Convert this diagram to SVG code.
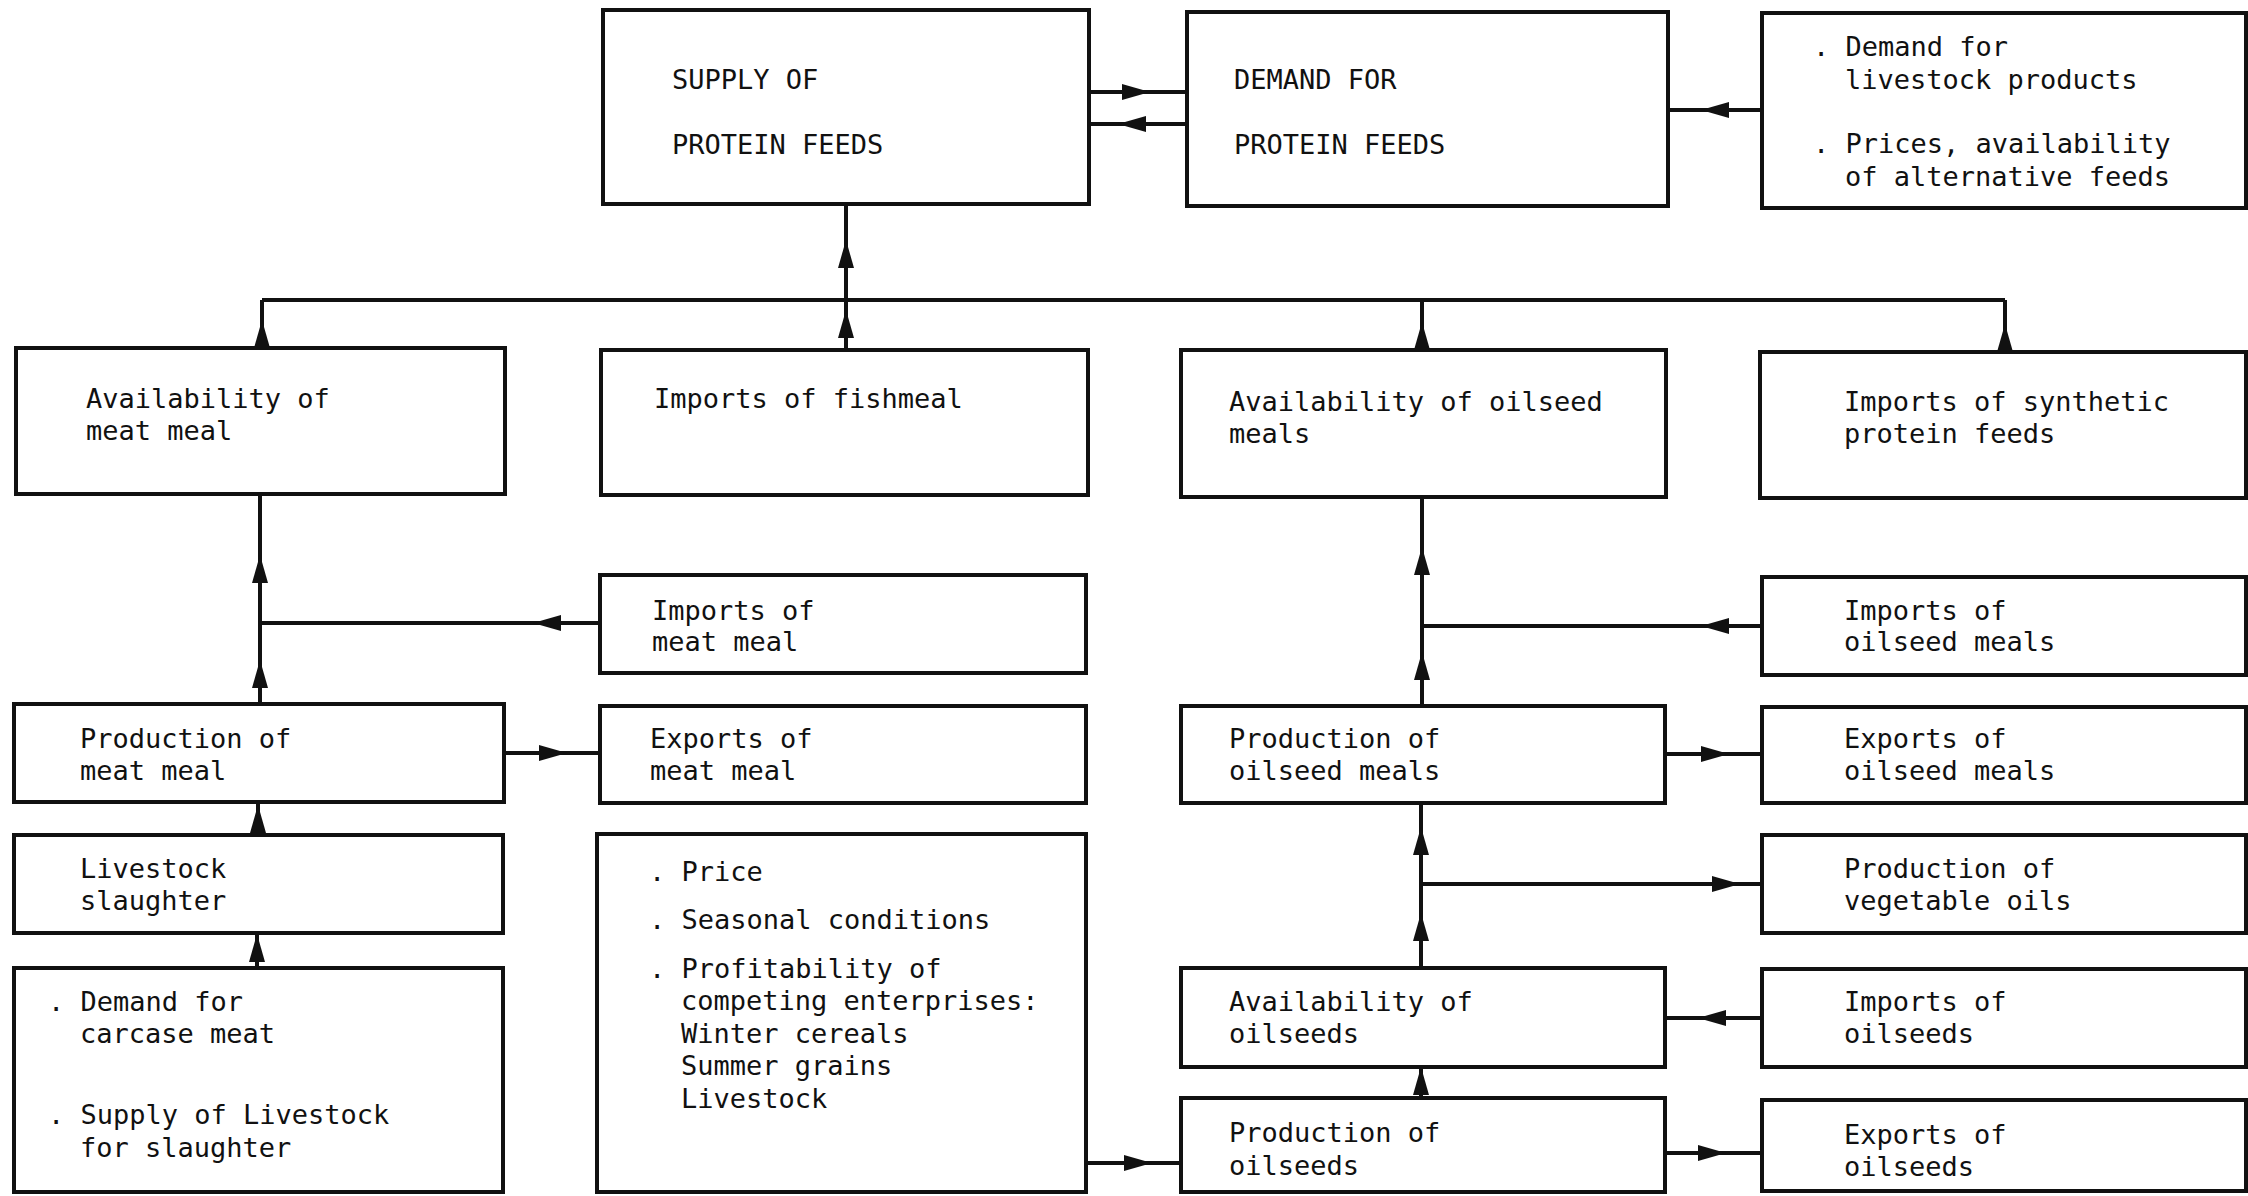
<svg xmlns="http://www.w3.org/2000/svg" xmlns:xlink="http://www.w3.org/1999/xlink" width="2248" height="1196" viewBox="0 0 2248 1196">
<style>
.box{fill:#fff;stroke:#111;stroke-width:4}
.ln{fill:none;stroke:#111;stroke-width:4}
text{font-family:"DejaVu Sans Mono","Liberation Mono",monospace;font-size:27px;fill:#111}
.ah{fill:#111;stroke:none}
</style>
<defs>
<path id="ah" class="ah" d="M0,0 L-28,-8 L-28,8 Z"/>
</defs>
<rect width="2248" height="1196" fill="#fff"/>

<g id="connectors">
<path class="ln" d="M1089,92 H1187 M1089,124 H1187 M1668,110 H1762"/>
<path class="ln" d="M262,300 H2005 M846,300 V205 M262,348 V300 M846,350 V300 M1422,350 V300 M2005,352 V300"/>
<path class="ln" d="M260,704 V494 M600,623 H260 M258,835 V802 M257,968 V933 M504,753 H600"/>
<path class="ln" d="M1422,706 V497 M1762,626 H1422 M1665,754 H1762 M1421,968 V803 M1421,884 H1762 M1421,1098 V1067 M1762,1018 H1665 M1665,1153 H1762 M1086,1163 H1181"/>
<use xlink:href="#ah" transform="translate(1150,92)"/>
<use xlink:href="#ah" transform="translate(1118,124) rotate(180)"/>
<use xlink:href="#ah" transform="translate(1701,110) rotate(180)"/>
<use xlink:href="#ah" transform="translate(846,240) rotate(-90)"/>
<use xlink:href="#ah" transform="translate(262,320) rotate(-90)"/>
<use xlink:href="#ah" transform="translate(846,310) rotate(-90)"/>
<use xlink:href="#ah" transform="translate(1422,322) rotate(-90)"/>
<use xlink:href="#ah" transform="translate(2005,324) rotate(-90)"/>
<use xlink:href="#ah" transform="translate(260,555) rotate(-90)"/>
<use xlink:href="#ah" transform="translate(260,660) rotate(-90)"/>
<use xlink:href="#ah" transform="translate(533,623) rotate(180)"/>
<use xlink:href="#ah" transform="translate(567,753)"/>
<use xlink:href="#ah" transform="translate(258,805) rotate(-90)"/>
<use xlink:href="#ah" transform="translate(257,934) rotate(-90)"/>
<use xlink:href="#ah" transform="translate(1422,547) rotate(-90)"/>
<use xlink:href="#ah" transform="translate(1422,652) rotate(-90)"/>
<use xlink:href="#ah" transform="translate(1701,626) rotate(180)"/>
<use xlink:href="#ah" transform="translate(1729,754)"/>
<use xlink:href="#ah" transform="translate(1421,827) rotate(-90)"/>
<use xlink:href="#ah" transform="translate(1421,913) rotate(-90)"/>
<use xlink:href="#ah" transform="translate(1740,884)"/>
<use xlink:href="#ah" transform="translate(1421,1067) rotate(-90)"/>
<use xlink:href="#ah" transform="translate(1698,1018) rotate(180)"/>
<use xlink:href="#ah" transform="translate(1726,1153)"/>
<use xlink:href="#ah" transform="translate(1152,1163)"/>
</g>

<g id="supply">
<rect class="box" x="603" y="10" width="486" height="194"/>
<text x="672" y="89">SUPPLY OF</text>
<text x="672" y="154">PROTEIN FEEDS</text>
</g>
<g id="demand">
<rect class="box" x="1187" y="12" width="481" height="194"/>
<text x="1234" y="89">DEMAND FOR</text>
<text x="1234" y="154">PROTEIN FEEDS</text>
</g>
<g id="demand-factors">
<rect class="box" x="1762" y="13" width="484" height="195"/>
<text x="1813" y="56">. Demand for</text>
<text x="1845" y="89">livestock products</text>
<text x="1813" y="153">. Prices, availability</text>
<text x="1845" y="186">of alternative feeds</text>
</g>

<g id="avail-meat-meal">
<rect class="box" x="16" y="348" width="489" height="146"/>
<text x="86" y="408">Availability of</text>
<text x="86" y="440">meat meal</text>
</g>
<g id="imports-fishmeal">
<rect class="box" x="601" y="350" width="487" height="145"/>
<text x="654" y="408">Imports of fishmeal</text>
</g>
<g id="avail-oilseed-meals">
<rect class="box" x="1181" y="350" width="485" height="147"/>
<text x="1229" y="411">Availability of oilseed</text>
<text x="1229" y="443">meals</text>
</g>
<g id="imports-synthetic">
<rect class="box" x="1760" y="352" width="486" height="146"/>
<text x="1844" y="411">Imports of synthetic</text>
<text x="1844" y="443">protein feeds</text>
</g>

<g id="imports-meat-meal">
<rect class="box" x="600" y="575" width="486" height="98"/>
<text x="652" y="620">Imports of</text>
<text x="652" y="651">meat meal</text>
</g>
<g id="imports-oilseed-meals">
<rect class="box" x="1762" y="577" width="484" height="98"/>
<text x="1844" y="620">Imports of</text>
<text x="1844" y="651">oilseed meals</text>
</g>

<g id="prod-meat-meal">
<rect class="box" x="14" y="704" width="490" height="98"/>
<text x="80" y="748">Production of</text>
<text x="80" y="780">meat meal</text>
</g>
<g id="exports-meat-meal">
<rect class="box" x="600" y="706" width="486" height="97"/>
<text x="650" y="748">Exports of</text>
<text x="650" y="780">meat meal</text>
</g>
<g id="prod-oilseed-meals">
<rect class="box" x="1181" y="706" width="484" height="97"/>
<text x="1229" y="748">Production of</text>
<text x="1229" y="780">oilseed meals</text>
</g>
<g id="exports-oilseed-meals">
<rect class="box" x="1762" y="707" width="484" height="96"/>
<text x="1844" y="748">Exports of</text>
<text x="1844" y="780">oilseed meals</text>
</g>

<g id="livestock-slaughter">
<rect class="box" x="14" y="835" width="489" height="98"/>
<text x="80" y="878">Livestock</text>
<text x="80" y="910">slaughter</text>
</g>
<g id="oilseed-factors">
<rect class="box" x="597" y="834" width="489" height="358"/>
<text x="649" y="881">. Price</text>
<text x="649" y="929">. Seasonal conditions</text>
<text x="649" y="978">. Profitability of</text>
<text x="681" y="1010">competing enterprises:</text>
<text x="681" y="1043">Winter cereals</text>
<text x="681" y="1075">Summer grains</text>
<text x="681" y="1108">Livestock</text>
</g>
<g id="prod-vegetable-oils">
<rect class="box" x="1762" y="835" width="484" height="98"/>
<text x="1844" y="878">Production of</text>
<text x="1844" y="910">vegetable oils</text>
</g>

<g id="meat-factors">
<rect class="box" x="14" y="968" width="489" height="224"/>
<text x="48" y="1011">. Demand for</text>
<text x="80" y="1043">carcase meat</text>
<text x="48" y="1124">. Supply of Livestock</text>
<text x="80" y="1157">for slaughter</text>
</g>
<g id="avail-oilseeds">
<rect class="box" x="1181" y="968" width="484" height="99"/>
<text x="1229" y="1011">Availability of</text>
<text x="1229" y="1043">oilseeds</text>
</g>
<g id="imports-oilseeds">
<rect class="box" x="1762" y="969" width="484" height="98"/>
<text x="1844" y="1011">Imports of</text>
<text x="1844" y="1043">oilseeds</text>
</g>
<g id="prod-oilseeds">
<rect class="box" x="1181" y="1098" width="484" height="94"/>
<text x="1229" y="1142">Production of</text>
<text x="1229" y="1175">oilseeds</text>
</g>
<g id="exports-oilseeds">
<rect class="box" x="1762" y="1100" width="484" height="91"/>
<text x="1844" y="1144">Exports of</text>
<text x="1844" y="1176">oilseeds</text>
</g>
</svg>
